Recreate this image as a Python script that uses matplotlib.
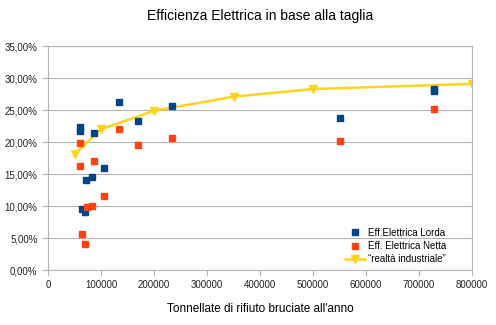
import matplotlib.pyplot as plt
from matplotlib.ticker import FuncFormatter, MultipleLocator

plt.rcParams['font.family'] = ['Liberation Sans', 'DejaVu Sans']

# dati
x_lorda = [60500, 61000, 87000, 134000, 169000, 234000, 106500, 83000, 72500,
           65000, 70000, 551000, 728000, 728000]
y_lorda = [22.4, 21.8, 21.4, 26.3, 23.3, 25.7, 16.0, 14.6, 14.1,
           9.5, 9.1, 23.7, 28.3, 28.0]

x_netta = [61000, 61000, 87000, 134000, 169000, 234000, 106500, 83000, 74000,
           65000, 70000, 551000, 728000]
y_netta = [19.9, 16.2, 17.0, 22.1, 19.6, 20.6, 11.5, 10.0, 9.8,
           5.7, 4.1, 20.2, 25.2]

x_ind = [50000, 100000, 200000, 350000, 500000, 800000]
y_ind = [18.1, 22.0, 24.9, 27.1, 28.3, 29.1]

fig = plt.figure(figsize=(4.96, 3.25), dpi=100)
ax = fig.add_axes([0.0968, 0.169, 0.8548, 0.689])

ax.plot(x_lorda, y_lorda, 's', color='#004586', markersize=5, label='Eff.Elettrica Lorda', zorder=3)
ax.plot(x_netta, y_netta, 's', color='#ff420e', markersize=5, label='Eff. Elettrica Netta', zorder=3)
ax.plot(x_ind, y_ind, '-v', color='#ffd320', linewidth=1.8, markersize=6,
        label='\u201crealtà industriale\u201d', zorder=2)

ax.set_xlim(0, 800000)
ax.set_ylim(0, 35)
ax.xaxis.set_major_locator(MultipleLocator(100000))
ax.yaxis.set_major_locator(MultipleLocator(5))
ax.yaxis.set_major_formatter(FuncFormatter(lambda v, p: f'{v:.2f}%'.replace('.', ',')))

ax.grid(axis='y', color='#b3b3b3', linewidth=0.8)
ax.set_axisbelow(True)
for s in ax.spines.values():
    s.set_color('#b3b3b3')
    s.set_linewidth(0.8)
ax.tick_params(colors='#b3b3b3', labelcolor='#222222', labelsize=7, length=4, width=0.8)

ax.set_title('Efficienza Elettrica in base alla taglia', fontsize=10, pad=19)
ax.set_xlabel("Tonnellate di rifiuto bruciate all'anno", fontsize=8.5, labelpad=9)

ax.legend(loc='lower right', frameon=False, fontsize=7, handlelength=2.0, handletextpad=0.3,
          borderaxespad=0.3, labelspacing=0.35, bbox_to_anchor=(0.955, -0.005))

fig.savefig('out.png', dpi=100)
